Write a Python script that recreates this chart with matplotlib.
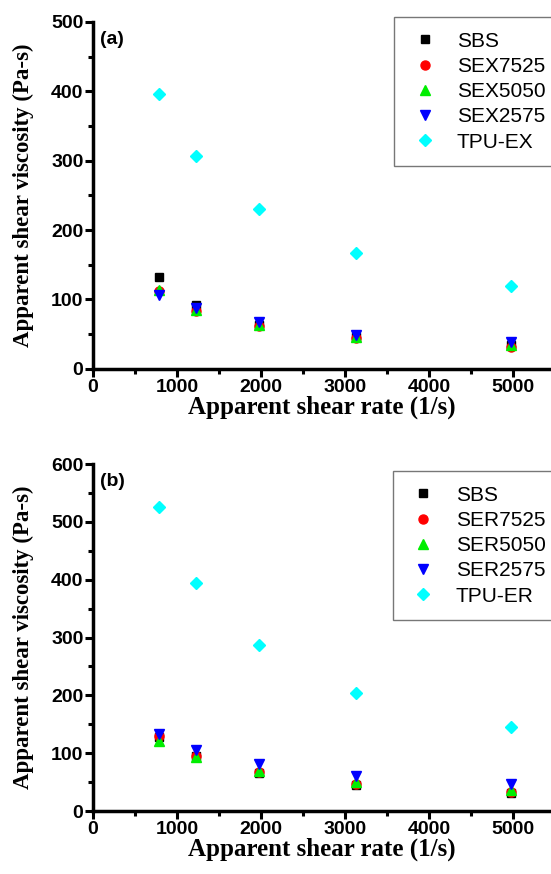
import numpy as np
import matplotlib
matplotlib.use('Agg')
import matplotlib.pyplot as plt
from matplotlib.ticker import MultipleLocator

# apparent shear rate (1/s)
shear_rate = [780, 1230, 1970, 3130, 4970]

# panel (a) viscosities (Pa-s)
labels_a = ['SBS', 'SEX7525', 'SEX5050', 'SEX2575', 'TPU-EX']
sbs_a = [133, 92, 63, 46, 34]
sex7525 = [112, 83, 61, 44, 32]
sex5050 = [113, 85, 63, 46, 34]
sex2575 = [106, 88, 67, 49, 38]
tpu_ex = [396, 307, 230, 167, 119]

# panel (b) viscosities (Pa-s)
labels_b = ['SBS', 'SER7525', 'SER5050', 'SER2575', 'TPU-ER']
sbs_b = [128, 95, 66, 45, 32]
ser7525 = [130, 95, 67, 47, 33]
ser5050 = [122, 93, 69, 50, 36]
ser2575 = [134, 106, 82, 61, 46]
tpu_er = [525, 395, 288, 205, 145]

markers = ['s', 'o', '^', 'v', 'D']
colors = ['black', 'red', '#00ee00', 'blue', 'cyan']
sizes = [5.5, 6.5, 7, 7, 6]


def draw_panel(ax, series, labels, ymax, tag, leg_top):
    for vals, lab, m, c, s in zip(series, labels, markers, colors, sizes):
        ax.plot(shear_rate, vals, linestyle='none', marker=m, color=c,
                markersize=s, label=lab)
    ax.set_xlim(0, 5450)
    ax.set_ylim(0, ymax)
    ax.xaxis.set_major_locator(MultipleLocator(1000))
    ax.xaxis.set_minor_locator(MultipleLocator(500))
    ax.yaxis.set_major_locator(MultipleLocator(100))
    ax.yaxis.set_minor_locator(MultipleLocator(50))
    for side in ['top', 'right']:
        ax.spines[side].set_visible(False)
    for side in ['left', 'bottom']:
        ax.spines[side].set_linewidth(2.5)
    ax.tick_params(which='major', direction='out', length=6, width=2.2, pad=1)
    ax.tick_params(which='minor', direction='out', length=3.5, width=2.2)
    for t in ax.get_xticklabels() + ax.get_yticklabels():
        t.set_fontfamily('Liberation Sans')
        t.set_fontweight('bold')
        t.set_fontsize(14)
    ax.set_xlabel('Apparent shear rate (1/s)', family='Liberation Serif',
                  fontweight='bold', fontsize=18, labelpad=0)
    ax.set_ylabel('Apparent shear viscosity (Pa-s)', family='Liberation Serif',
                  fontweight='bold', fontsize=16.5, labelpad=12)
    ax.text(0.015, 0.975, tag, transform=ax.transAxes, ha='left', va='top',
            family='Liberation Sans', fontweight='bold', fontsize=14)
    leg = ax.legend(loc='upper right', bbox_to_anchor=(1.02, leg_top),
                    prop={'family': 'Liberation Sans', 'size': 15},
                    fancybox=False, edgecolor='#555555', handletextpad=0.8,
                    borderpad=0.7, labelspacing=0.3, handlelength=1.5,
                    borderaxespad=0)
    leg.get_frame().set_linewidth(1.0)


fig = plt.figure(figsize=(5.51, 8.74), dpi=100)
ax1 = fig.add_axes([0.169, 0.578, 0.831, 0.397])
ax2 = fig.add_axes([0.169, 0.072, 0.831, 0.397])

draw_panel(ax1, [sbs_a, sex7525, sex5050, sex2575, tpu_ex], labels_a, 500, '(a)', 1.014)
draw_panel(ax2, [sbs_b, ser7525, ser5050, ser2575, tpu_er], labels_b, 600, '(b)', 0.98)

fig.savefig('out.png', dpi=100)
